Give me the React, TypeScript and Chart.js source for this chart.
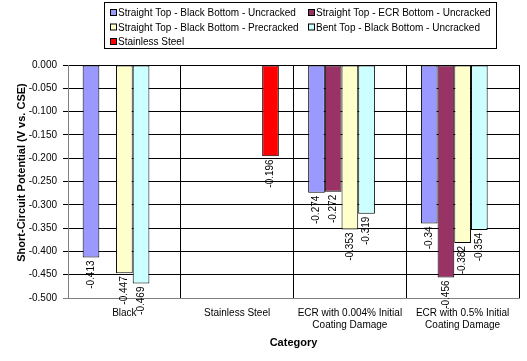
import React, { useEffect, useRef } from "react";
import { Chart, registerables } from "chart.js";

Chart.register(...registerables);

const categories: (string | string[])[] = [
  "Black",
  "Stainless Steel",
  ["ECR with 0.004% Initial", "Coating Damage"],
  ["ECR with 0.5% Initial", "Coating Damage"],
];

const seriesNames = [
  "Straight Top - Black Bottom - Uncracked",
  "Straight Top - ECR Bottom - Uncracked",
  "Straight Top - Black Bottom - Precracked",
  "Bent Top - Black Bottom - Uncracked",
  "Stainless Steel",
];

const seriesColors = ["#9999FF", "#993366", "#FFFFCC", "#CCFFFF", "#FF0000"];

const straightBlackUncracked = [-0.413, null, -0.274, -0.34];
const straightEcrUncracked = [null, null, -0.272, -0.456];
const straightBlackPrecracked = [-0.447, null, -0.353, -0.382];
const bentBlackUncracked = [-0.469, null, -0.319, -0.354];
const stainlessSteel = [null, -0.196, null, null];

const seriesValues = [
  straightBlackUncracked,
  straightEcrUncracked,
  straightBlackPrecracked,
  bentBlackUncracked,
  stainlessSteel,
];

const yMin = -0.5;
const yMax = 0;
const yStep = 0.05;

const yTitle = "Short-Circuit Potential (V vs. CSE)";
const xTitle = "Category";

const FONT = "'Liberation Sans', Arial, sans-serif";

const overlayPlugin = {
  id: "overlay",
  afterDatasetsDraw(chart: any) {
    const ctx = chart.ctx;
    ctx.save();
    ctx.font = `10px ${FONT}`;
    ctx.fillStyle = "#000";
    chart.data.datasets.forEach((ds: any, di: number) => {
      const meta = chart.getDatasetMeta(di);
      meta.data.forEach((bar: any, i: number) => {
        const v = ds.data[i];
        if (v === null || v === undefined) return;
        ctx.save();
        ctx.translate(bar.x, bar.y + 3);
        ctx.rotate(-Math.PI / 2);
        ctx.textAlign = "right";
        ctx.textBaseline = "middle";
        ctx.fillText(String(v), 0, 0);
        ctx.restore();
      });
    });
    ctx.restore();
  },
  afterDraw(chart: any) {
    const ctx = chart.ctx;
    const area = chart.chartArea;
    ctx.save();
    // axis titles
    ctx.fillStyle = "#000";
    ctx.font = `bold 11px ${FONT}`;
    ctx.textAlign = "center";
    ctx.textBaseline = "middle";
    ctx.fillText(xTitle, (area.left + area.right) / 2, 343);
    ctx.save();
    ctx.translate(22, (area.top + area.bottom) / 2 - 9);
    ctx.rotate(-Math.PI / 2);
    ctx.fillText(yTitle, 0, 0);
    ctx.restore();

    // legend
    ctx.fillStyle = "#fff";
    ctx.strokeStyle = "#000";
    ctx.lineWidth = 1;
    ctx.fillRect(104.5, 2.5, 392, 46);
    ctx.strokeRect(104.5, 2.5, 392, 46);
    const colX = [110, 308];
    const rowY = [13, 27.5, 42];
    ctx.font = `10px ${FONT}`;
    ctx.textAlign = "left";
    ctx.textBaseline = "middle";
    chart.data.datasets.forEach((ds: any, di: number) => {
      const cx = colX[di % 2];
      const cy = rowY[Math.floor(di / 2)];
      ctx.fillStyle = ds.backgroundColor;
      ctx.fillRect(cx + 0.5, cy - 3.5, 6, 6);
      ctx.strokeStyle = "#000";
      ctx.strokeRect(cx + 0.5, cy - 3.5, 6, 6);
      ctx.fillStyle = "#000";
      ctx.fillText(ds.label, cx + 8, cy + 0.5);
    });
    ctx.restore();
  },
};

export default function App() {
  const canvasRef = useRef<HTMLCanvasElement | null>(null);

  useEffect(() => {
    if (!canvasRef.current) return;
    const chart = new Chart(canvasRef.current, {
      type: "bar",
      data: {
        labels: categories as any,
        datasets: seriesValues.map((vals, i) => ({
          label: seriesNames[i],
          data: vals as any,
          backgroundColor: seriesColors[i],
          borderColor: "#000",
          borderWidth: 1,
          borderSkipped: false,
          barPercentage: 1,
          categoryPercentage: 0.74,
        })),
      },
      options: {
        animation: false,
        responsive: false,
        devicePixelRatio: 1,
        layout: { padding: { top: 65, right: 8, left: 0, bottom: 0 } },
        plugins: {
          legend: { display: false },
          title: { display: false },
          tooltip: { enabled: false },
        },
        scales: {
          x: {
            offset: true,
            grid: {
              offset: true,
              drawTicks: false,
              color: (c: any) => (c.index === 0 || c.index === categories.length ? "#808080" : "#000"),
              lineWidth: 1,
            },
            border: { display: true, color: "#808080" },
            ticks: {
              color: "#000",
              font: { family: FONT, size: 10 },
              padding: 9,
              maxRotation: 0,
              autoSkip: false,
            },
            afterFit: (scale: any) => {
              scale.height = 63;
            },
          },
          y: {
            min: yMin,
            max: yMax,
            grid: {
              color: (c: any) => (c.tick && Math.abs(c.tick.value - yMin) < 1e-9 ? "#808080" : "#000"),
              tickLength: 5,
              lineWidth: 1,
            },
            border: { display: true, color: "#808080" },
            ticks: {
              stepSize: yStep,
              color: "#000",
              font: { family: FONT, size: 10 },
              padding: 6,
              callback: (v: any) => Number(v).toFixed(3),
            },
            afterFit: (scale: any) => {
              scale.width = 68;
            },
          },
        },
      },
      plugins: [overlayPlugin],
    });
    return () => chart.destroy();
  }, []);

  return (
    <div style={{ position: "absolute", left: 0, top: 0, width: 527, height: 361, background: "#fff" }}>
      <canvas ref={canvasRef} width={527} height={361} />
    </div>
  );
}
